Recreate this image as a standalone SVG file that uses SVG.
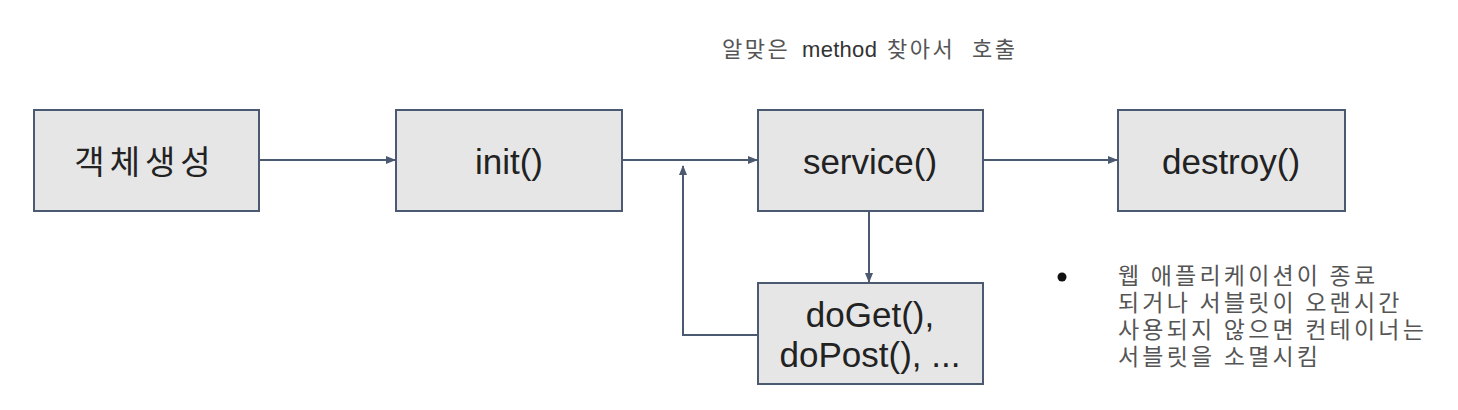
<svg xmlns="http://www.w3.org/2000/svg" width="1458" height="410" viewBox="0 0 1458 410">
<style>
.box{fill:#e6e6e6;stroke:#4b5a70;stroke-width:2}
.lbl{font-family:"Liberation Sans","Noto Sans CJK KR",sans-serif;font-size:35px;fill:#222;text-anchor:middle}
.note{font-family:"Noto Sans CJK KR","Liberation Sans",sans-serif;font-size:23px;fill:#555;letter-spacing:3.2px}
.con{fill:none;stroke:#4b5a70;stroke-width:2}
</style>
<defs>
<marker id="ah" markerWidth="10" markerHeight="8" refX="9" refY="4" orient="auto" markerUnits="userSpaceOnUse">
<path d="M0,0 L10,4 L0,8 z" fill="#4b5a70"/>
</marker>
</defs>
<rect width="1458" height="410" fill="#fff"/>
<text class="note" y="57" style="font-size:22px;letter-spacing:2.5px"><tspan x="722">알맞은</tspan><tspan x="802" fill="#333" font-family="Liberation Sans" style="font-size:22px;letter-spacing:0.3px">method</tspan><tspan x="887">찾아서</tspan><tspan x="972">호출</tspan></text>
<g id="connectors">
<line class="con" x1="259" y1="160" x2="395" y2="160" marker-end="url(#ah)"/>
<line class="con" x1="622" y1="160" x2="757" y2="160" marker-end="url(#ah)"/>
<line class="con" x1="983" y1="160" x2="1117" y2="160" marker-end="url(#ah)"/>
<line class="con" x1="869" y1="211" x2="869" y2="282" marker-end="url(#ah)"/>
<path class="con" d="M758,335 H683 V166" marker-end="url(#ah)"/>
</g>
<g id="n1"><rect class="box" x="34" y="110" width="225" height="101"/><text class="lbl" x="145" y="174" style="font-size:33px;letter-spacing:5px">객체생성</text></g>
<g id="n2"><rect class="box" x="396" y="110" width="226" height="101"/><text class="lbl" x="509" y="174">init()</text></g>
<g id="n3"><rect class="box" x="758" y="110" width="225" height="101"/><text class="lbl" x="870" y="174">service()</text></g>
<g id="n4"><rect class="box" x="1118" y="110" width="227" height="101"/><text class="lbl" x="1231" y="174">destroy()</text></g>
<g id="n5"><rect class="box" x="758" y="283" width="225" height="101"/><text class="lbl" x="870" y="327">doGet(),</text><text class="lbl" x="870" y="367">doPost(), ...</text></g>
<g id="note">
<circle cx="1062" cy="277" r="4.5" fill="#111"/>
<text class="note" x="1118" y="284">웹 애플리케이션이 종료</text>
<text class="note" x="1118" y="311">되거나 서블릿이 오랜시간</text>
<text class="note" x="1118" y="338">사용되지 않으면 컨테이너는</text>
<text class="note" x="1118" y="365">서블릿을 소멸시킴</text>
</g>
</svg>
